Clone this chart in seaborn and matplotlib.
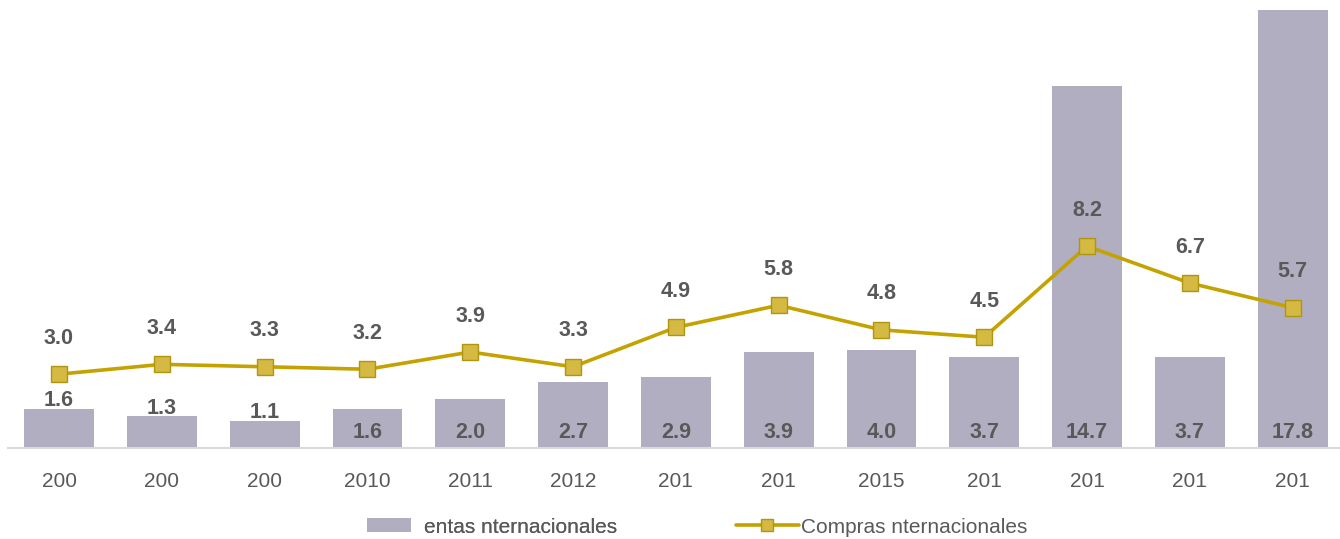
import numpy as np
import pandas as pd
import matplotlib
matplotlib.use("Agg")
import matplotlib.pyplot as plt
import seaborn as sns
from matplotlib.patches import Patch
from matplotlib.lines import Line2D

# Series values
tick_labels = ["200", "200", "200", "2010", "2011", "2012", "201", "201",
               "2015", "201", "201", "201", "201"]
ventas = [1.6, 1.3, 1.1, 1.6, 2.0, 2.7, 2.9, 3.9, 4.0, 3.7, 14.7, 3.7, 17.8]
compras = [3.0, 3.4, 3.3, 3.2, 3.9, 3.3, 4.9, 5.8, 4.8, 4.5, 8.2, 6.7, 5.7]
legend_labels = ["entas nternacionales", "Compras nternacionales"]

BAR_COLOR = "#B0AEC0"
LINE_COLOR = "#C4A300"
MARKER_FACE = "#D4B942"
MARKER_EDGE = "#B09510"
TEXT_COLOR = "#595959"

sns.set_theme(style="white")
plt.rcParams["font.family"] = ["Liberation Sans", "DejaVu Sans"]

df = pd.DataFrame({"pos": np.arange(len(ventas)), "ventas": ventas, "compras": compras})

fig = plt.figure(figsize=(13.4, 5.39), dpi=100)
ax = fig.add_axes([0.0057, 0.1688, 0.9943, 0.8312])

sns.barplot(data=df, x="pos", y="ventas", color=BAR_COLOR, saturation=1,
            width=0.68, edgecolor="none", ax=ax, native_scale=False)
sns.lineplot(data=df, x="pos", y="compras", color=LINE_COLOR, lw=2.6,
             marker="s", markersize=11, markerfacecolor=MARKER_FACE,
             markeredgecolor=MARKER_EDGE, markeredgewidth=1.0, ax=ax, zorder=4)

ax.set_xlim(-0.5, 12.46)
ax.set_ylim(0, 18.2)
ax.set_xlabel("")
ax.set_ylabel("")
ax.set_yticks([])
ax.set_xticks(df["pos"])
ax.set_xticklabels(tick_labels, fontsize=15, color=TEXT_COLOR)
ax.tick_params(axis="x", length=0, pad=17)
for side in ["top", "right", "left"]:
    ax.spines[side].set_visible(False)
ax.spines["bottom"].set_color("#D9D9D9")
ax.spines["bottom"].set_linewidth(1.5)

LABEL_SIZE = 15.5

# Bar value labels: short early bars carry the label just above their top
for i, v in enumerate(ventas):
    if i < 3:
        ax.annotate(f"{v:.1f}", (i, v), xytext=(0, 8), textcoords="offset pixels",
                    ha="center", va="center", fontsize=LABEL_SIZE, fontweight="bold",
                    color=TEXT_COLOR, zorder=5)
    else:
        ax.annotate(f"{v:.1f}", (i, 0), xytext=(0, 16), textcoords="offset pixels",
                    ha="center", va="center", fontsize=LABEL_SIZE, fontweight="bold",
                    color=TEXT_COLOR, zorder=5)

# Line value labels above each marker
for i, v in enumerate(compras):
    ax.annotate(f"{v:.1f}", (i, v), xytext=(0, 36), textcoords="offset pixels",
                ha="center", va="center", fontsize=LABEL_SIZE, fontweight="bold",
                color=TEXT_COLOR, zorder=5)

# Legend
bar_handle = Patch(facecolor=BAR_COLOR, edgecolor="none")
line_handle = Line2D([], [], color=LINE_COLOR, lw=2.6, marker="s", markersize=8,
                     markerfacecolor=MARKER_FACE, markeredgecolor=MARKER_EDGE)
leg1 = fig.legend([bar_handle], [legend_labels[0]], loc="center left",
                  bbox_to_anchor=(367 / 1340, 0.022), frameon=False, fontsize=15,
                  borderpad=0, borderaxespad=0,
                  handlelength=2.1, handleheight=0.65, handletextpad=0.62,
                  labelcolor=TEXT_COLOR)
leg2 = fig.legend([line_handle], [legend_labels[1]], loc="center left",
                  bbox_to_anchor=(736 / 1340, 0.022), frameon=False, fontsize=15,
                  borderpad=0, borderaxespad=0,
                  handlelength=3.0, handletextpad=0.1, labelcolor=TEXT_COLOR)
fig.add_artist(leg1)

fig.savefig("out.png", dpi=100)
